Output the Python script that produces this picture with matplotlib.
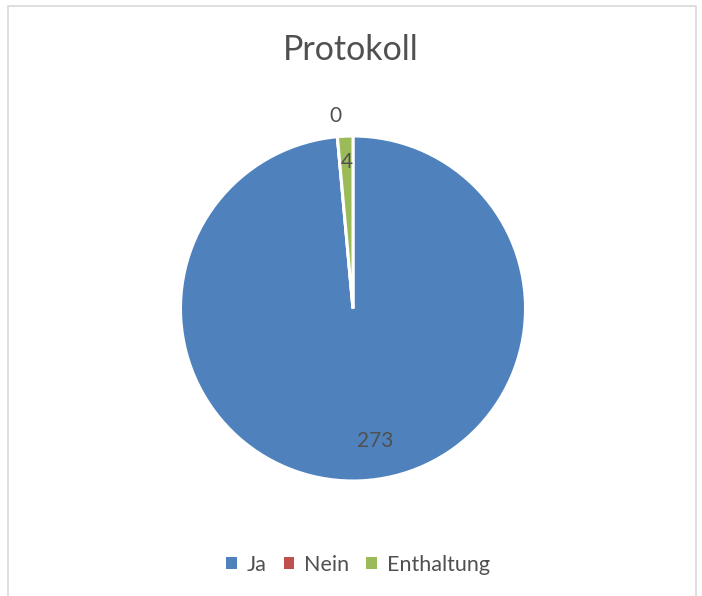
import numpy as np
import matplotlib
matplotlib.use("Agg")
import matplotlib.pyplot as plt
from matplotlib.patches import Patch, Rectangle

# Chart data
categories = ["Ja", "Nein", "Enthaltung"]
votes = [273, 0, 4]
colors = ["#4F81BD", "#C0504D", "#9BBB59"]
title = "Protokoll"

# label placement: distance (in radii) and angular nudge (deg) per slice
label_dist = [0.78, 1.12, 0.85]
label_nudge = [7, 0, 0]

W, H = 702, 596
plt.rcParams["font.family"] = ["Lato", "DejaVu Sans"]
text_color = "#505050"

fig = plt.figure(figsize=(W / 100, H / 100), dpi=100)
fig.patch.set_facecolor("white")

# light grey chart border (bottom edge runs off the picture)
fig.add_artist(Rectangle((8 / W, -0.02), (696 - 8) / W, 1 - 6 / H + 0.02,
                         transform=fig.transFigure, fill=False,
                         edgecolor="#D9D9D9", linewidth=1.2))

cx, cy, r = 353, 308.5, 172.5
ax = fig.add_axes([(cx - r) / W, (H - cy - r) / H, 2 * r / W, 2 * r / H])
wedges, _ = ax.pie(votes, colors=colors, startangle=90, counterclock=False,
                   radius=1, wedgeprops=dict(edgecolor="white", linewidth=2.2))
ax.set_xlim(-1, 1)
ax.set_ylim(-1, 1)
ax.set_aspect("equal")
ax.axis("off")

for w, v, d, n in zip(wedges, votes, label_dist, label_nudge):
    mid = np.deg2rad((w.theta1 + w.theta2) / 2 + n)
    ax.text(d * np.cos(mid), d * np.sin(mid), str(v), ha="center", va="center",
            fontsize=15, color=text_color, clip_on=False)

fig.text(0.5, 1 - 50 / H, title, ha="center", va="center",
         fontsize=24.5, color=text_color)

handles = [Patch(facecolor=c, edgecolor="none") for c in colors]
fig.legend(handles, categories, loc="center", bbox_to_anchor=(358 / W, 1 - 565 / H),
           ncol=3, frameon=False, fontsize=15.5, labelcolor=text_color,
           handlelength=0.5, handleheight=0.5, handletextpad=0.45,
           columnspacing=0.8)

fig.savefig("out.png", dpi=100)
